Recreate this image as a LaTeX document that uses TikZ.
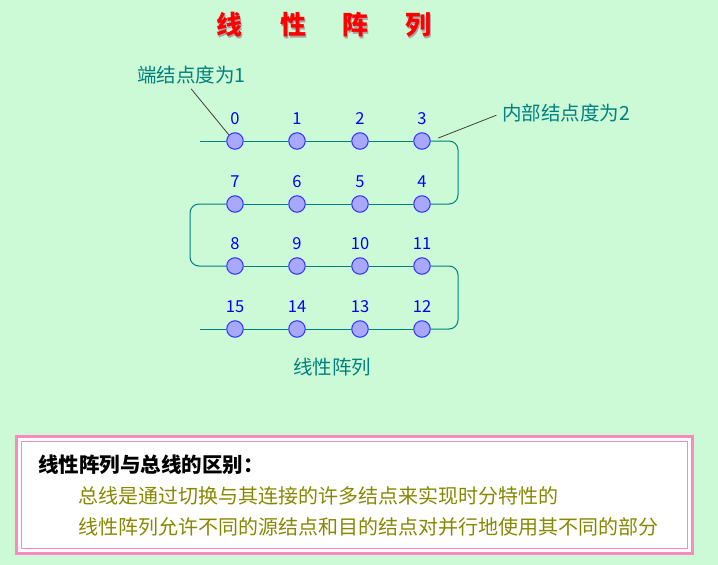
\documentclass[tikz,border=0pt]{standalone}
\usepackage{fontspec}
\newfontfamily\cjk{Noto Sans CJK SC}
\definecolor{bggreen}{RGB}{204,250,214}
\definecolor{wireteal}{RGB}{0,128,128}
\definecolor{dotfill}{RGB}{168,168,255}
\definecolor{dotedge}{RGB}{48,48,255}
\definecolor{boxpink}{RGB}{255,136,192}
\definecolor{textolive}{RGB}{136,136,0}
\begin{document}
\begin{tikzpicture}[x=1pt,y=-1pt,
  dot/.style={circle,draw=dotedge,fill=dotfill,line width=1pt,minimum size=16.5pt,inner sep=0pt},
  num/.style={text=blue,font=\cjk\fontsize{16.5}{16.5}\selectfont},
  wire/.style={wireteal,line width=1pt},
  note/.style={text=wireteal,inner sep=0pt,font=\cjk\fontsize{19.5}{19.5}\selectfont},
  leader/.style={black!75,line width=0.8pt}]
\fill[bggreen] (0,0) rectangle (718,565);
\useasboundingbox (0,0) rectangle (718,565);
% title with shadow
\foreach \i/\c/\x in {1/线/229,2/性/293,3/阵/355,4/列/418} {
  \node[text=black!35,font=\cjk\bfseries\fontsize{26}{26}\selectfont] at (\x+1.5,26.5) {\c};
  \node[text=red,font=\cjk\bfseries\fontsize{26}{26}\selectfont] (title\i) at (\x,25) {\c};
}
% nodes, numbered as a snake
\foreach \r/\y in {0/141,1/204,2/266,3/329} {
  \foreach \c/\x in {0/235,1/297,2/360,3/422} {
    \pgfmathtruncatemacro\n{mod(\r,2)==0 ? 4*\r+\c : 4*\r+3-\c}
    \node[dot] (n\n) at (\x,\y) {};
    \node[num] (t\n) at (\x,\y-22) {\n};
  }
}
\coordinate (turnR) at (458,0);
\coordinate (turnL) at (190,0);
\coordinate (endA) at (200,141);
\coordinate (endB) at (200,329);
\foreach \a/\b in {0/1,1/2,2/3,4/5,5/6,6/7,8/9,9/10,10/11,12/13,13/14,14/15}
  \draw[wire] (n\a) -- (n\b);
\draw[wire] (endA) -- (n0);
\draw[wire] (n15) -- (endB);
\draw[wire,rounded corners=9pt] (n3) -- (n3 -| turnR) -- (n4 -| turnR) -- (n4);
\draw[wire,rounded corners=9pt] (n7) -- (n7 -| turnL) -- (n8 -| turnL) -- (n8);
\draw[wire,rounded corners=9pt] (n11) -- (n11 -| turnR) -- (n12 -| turnR) -- (n12);
% notes
\node[note,anchor=west] (deg1) at (137,75) {端结点度为1};
\node[note,anchor=west] (deg2) at (502,113) {内部结点度为2};
\draw[leader,shorten <=6pt] ([xshift=-4pt]deg1.south) -- (n0.north west);
\draw[leader,shorten <=6pt,shorten >=8pt] (deg2.west) -- (n3.east);
\node[note] (cap) at (332,367) {线性阵列};
% box
\filldraw[fill=white,draw=boxpink,line width=3pt] (16,436) rectangle (692,553);
\draw[boxpink,line width=1pt] (21,441) rectangle (687,548);
\node[anchor=west,inner sep=0pt,font=\cjk\bfseries\fontsize{20.5}{20.5}\selectfont] (head) at (38,465) {线性阵列与总线的区别：};
\node[anchor=west,inner sep=0pt,text=textolive,font=\cjk\fontsize{20}{20}\selectfont] (line1) at (78,496) {总线是通过切换与其连接的许多结点来实现时分特性的};
\node[anchor=west,inner sep=0pt,text=textolive,font=\cjk\fontsize{20}{20}\selectfont] (line2) at (78,527) {线性阵列允许不同的源结点和目的结点对并行地使用其不同的部分};
\end{tikzpicture}
\end{document}
